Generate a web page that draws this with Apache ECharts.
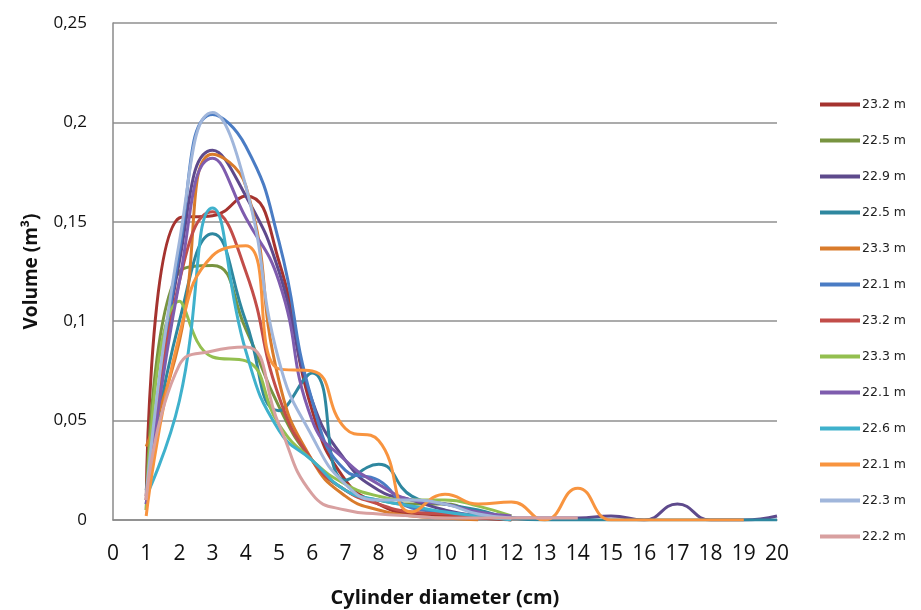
<!DOCTYPE html>
<html>
<head>
<meta charset="utf-8">
<script src="https://cdn.jsdelivr.net/npm/echarts@6/dist/echarts.min.js"></script>
<style>
html,body{margin:0;padding:0;background:#fff;}
#chart{width:921px;height:610px;}
</style>
</head>
<body>
<div id="chart"></div>
<script>
// Cylinder diameter classes (cm)
const diameters = [1,2,3,4,5,6,7,8,9,10,11,12,13,14,15,16,17,18,19,20];

// Legend labels (tree heights)
const seriesNames = ['23.2 m','22.5 m','22.9 m','22.5 m','23.3 m','22.1 m','23.2 m','23.3 m','22.1 m','22.6 m','22.1 m','22.3 m','22.2 m'];

// Volume (m3) per diameter class, one array per tree
const s1  = [0.010,0.152,0.153,0.163,0.130,0.055,0.020,0.008,0.003,0.002,0.001,0.000];
const s2  = [0.005,0.125,0.128,0.096,0.057,0.030,0.015,0.010,0.008,0.008,0.003,0.000];
const s3  = [0.010,0.130,0.186,0.163,0.125,0.060,0.030,0.015,0.010,0.005,0.002,0.001,0.001,0.001,0.002,0.000,0.008,0.000,0.000,0.002];
const s4  = [0.015,0.100,0.144,0.100,0.055,0.074,0.020,0.028,0.012,0.008,0.005,0.001,0.000,0.000,0.000,0.000,0.000,0.000,0.000,0.000];
const s5  = [0.037,0.090,0.184,0.168,0.070,0.030,0.012,0.005,0.002,0.001,0.000];
const s6  = [0.008,0.135,0.204,0.188,0.140,0.060,0.025,0.020,0.006,0.004,0.002,0.001];
const s7  = [0.012,0.120,0.155,0.125,0.062,0.030,0.015,0.008,0.004,0.003,0.002,0.000];
const s8  = [0.005,0.110,0.082,0.080,0.048,0.030,0.018,0.012,0.010,0.010,0.007,0.002];
const s9  = [0.008,0.120,0.182,0.152,0.120,0.050,0.030,0.018,0.010,0.008,0.004,0.002];
const s10 = [0.012,0.060,0.157,0.085,0.045,0.030,0.015,0.010,0.007,0.004,0.002,0.000];
const s11 = [0.002,0.093,0.133,0.138,0.076,0.075,0.046,0.040,0.004,0.013,0.008,0.009,0.000,0.016,0.000,0.000,0.000,0.000,0.000];
const s12 = [0.012,0.140,0.205,0.168,0.080,0.042,0.018,0.010,0.010,0.008,0.003,0.001];
const s13 = [0.010,0.078,0.085,0.087,0.048,0.013,0.005,0.003,0.002,0.001,0.001,0.001,0.001,0.001];

const seriesValues = [s1,s2,s3,s4,s5,s6,s7,s8,s9,s10,s11,s12,s13];

// Y axis tick values
const yTicks = [0,0.05,0.1,0.15,0.2,0.25];

const colors = ['#A5332F','#789440','#5E4A8C','#2E879F','#D97B2B','#4A7CC4','#C24D49','#93BF4F','#7E5CAE','#3FB1CC','#F8943F','#A0B6DB','#D8A0A0'];

const chart = echarts.init(document.getElementById('chart'));

const series = seriesValues.map((vals, i) => ({
  name: seriesNames[i] + '#' + i,
  type: 'line',
  smooth: true,
  symbol: 'none',
  lineStyle: { width: 3, color: colors[i] },
  itemStyle: { color: colors[i] },
  data: vals.map((v, k) => [diameters[k], v])
}));

chart.setOption({
  animation: false,
  color: colors,
  grid: { left: 113, right: 144, top: 23, bottom: 90, containLabel: false, outerBoundsMode: 'none' },
  legend: {
    orient: 'vertical',
    left: 815,
    top: 93,
    itemWidth: 40,
    itemHeight: 4,
    itemGap: 23,
    icon: 'rect',
    data: series.map(s => s.name),
    formatter: n => n.split('#')[0],
    textStyle: { fontFamily: 'DejaVu Sans', fontSize: 12.5, color: '#222', padding: [0,0,0,-3] }
  },
  xAxis: {
    type: 'value',
    min: 0, max: 20, interval: 1,
    name: 'Cylinder diameter (cm)',
    nameLocation: 'middle',
    nameGap: 68,
    nameTextStyle: { fontFamily: 'Open Sans', fontWeight: 'bold', fontSize: 20, color: '#111' },
    axisLine: { show: true, lineStyle: { color: '#8a8a8a', width: 1.5 } },
    axisTick: { show: false },
    splitLine: { show: false },
    axisLabel: { margin: 24, fontFamily: 'Liberation Sans Narrow, Open Sans', fontSize: 21, color: '#111' }
  },
  yAxis: {
    type: 'value',
    min: yTicks[0], max: yTicks[yTicks.length-1], interval: 0.05,
    name: 'Volume (m³)',
    nameLocation: 'middle',
    nameGap: 72,
    nameTextStyle: { fontFamily: 'Open Sans', fontWeight: 'bold', fontSize: 19, color: '#111' },
    axisLine: { show: true, lineStyle: { color: '#8a8a8a', width: 1.5 } },
    axisTick: { show: false },
    splitLine: { show: true, lineStyle: { color: '#8f8f8f', width: 1.5 } },
    axisLabel: {
      margin: 26, fontFamily: 'Open Sans', fontSize: 17, color: '#111',
      formatter: v => String(Math.round(v*100)/100).replace('.', ',')
    }
  },
  series: series
});
</script>
</body>
</html>
